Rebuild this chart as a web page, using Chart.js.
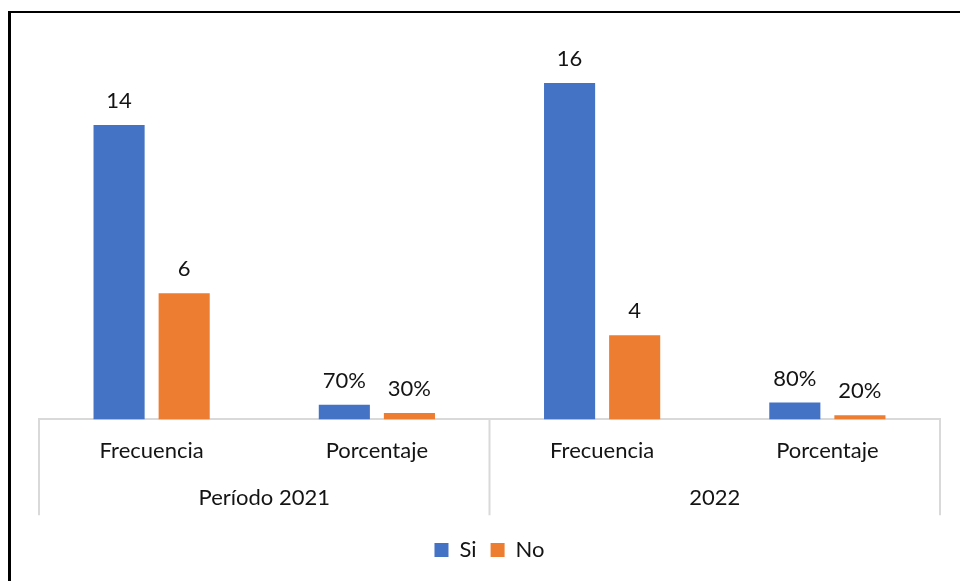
<!DOCTYPE html>
<html>
<head>
<meta charset="utf-8">
<script src="https://cdn.jsdelivr.net/npm/chart.js@4.4.0/dist/chart.umd.min.js"></script>
<style>
  html, body { margin: 0; padding: 0; background: #fff; }
  #wrap { position: relative; width: 960px; height: 581px; }
  #frame {
    position: absolute; left: 8px; top: 11px; right: 0; bottom: 0;
    border-left: 3px solid #000; border-top: 2px solid #000;
    pointer-events: none;
  }
</style>
</head>
<body>
<div id="wrap">
  <canvas id="barChart" width="960" height="581"></canvas>
  <div id="frame"></div>
</div>
<script>
const categories = ['Frecuencia', 'Porcentaje', 'Frecuencia', 'Porcentaje'];
const periods = ['Período 2021', '2022'];
const siValues = [14, 0.7, 16, 0.8];
const noValues = [6, 0.3, 4, 0.2];
// which categories hold shares (shown as %)
const isPercent = [false, true, false, true];

const FONT = 'Lato, "Open Sans", sans-serif';
const FONT_SIZE = 22;
const TEXT = '#141414';
const AXIS_GRAY = '#d9d9d9';

function fmt(v, i) {
    return isPercent[i] ? Math.round(v * 100) + '%' : String(v);
}

// value labels above each bar
const barLabels = {
    id: 'barLabels',
    afterDatasetsDraw(chart) {
        const ctx = chart.ctx;
        ctx.save();
        ctx.font = FONT_SIZE + 'px ' + FONT;
        ctx.fillStyle = TEXT;
        ctx.textAlign = 'center';
        ctx.textBaseline = 'alphabetic';
        chart.data.datasets.forEach((ds, di) => {
            chart.getDatasetMeta(di).data.forEach((bar, i) => {
                ctx.fillText(fmt(ds.data[i], i), bar.x, bar.y - 17);
            });
        });
        ctx.restore();
    }
};

// separators of the two-level category axis
const groupLines = {
    id: 'groupLines',
    afterDraw(chart) {
        const x = chart.scales.x;
        const x2 = chart.scales.x2;
        const area = chart.chartArea;
        const mid = (x.getPixelForValue(1) + x.getPixelForValue(2)) / 2;
        const ctx = chart.ctx;
        ctx.save();
        ctx.strokeStyle = AXIS_GRAY;
        ctx.lineWidth = 2;
        ctx.beginPath();
        [area.left, mid, area.right].forEach(px => {
            ctx.moveTo(px, area.bottom);
            ctx.lineTo(px, x2.bottom + 1);
        });
        ctx.stroke();
        ctx.restore();
    }
};

const ctx = document.getElementById('barChart').getContext('2d');
new Chart(ctx, {
    type: 'bar',
    data: {
        labels: categories,
        datasets: [
            { label: 'Si', data: siValues, backgroundColor: '#4472C4', xAxisID: 'x' },
            { label: 'No', data: noValues, backgroundColor: '#ED7D31', xAxisID: 'x' }
        ]
    },
    options: {
        responsive: false,
        animation: false,
        categoryPercentage: 0.578,
        barPercentage: 0.785,
        layout: { padding: { left: 39, right: 20, top: 41, bottom: 10 } },
        scales: {
            y: { display: false, min: 0, max: 18 },
            x: {
                weight: 0,
                grid: { display: false, drawTicks: false },
                border: { display: true, color: AXIS_GRAY, width: 2 },
                ticks: { padding: 18, color: TEXT, font: { family: FONT, size: FONT_SIZE } }
            },
            x2: {
                type: 'category',
                labels: periods,
                position: 'bottom',
                weight: 1,
                grid: { display: false, drawTicks: false },
                border: { display: false },
                ticks: { padding: 3, color: TEXT, font: { family: FONT, size: FONT_SIZE } }
            }
        },
        plugins: {
            tooltip: { enabled: false },
            legend: {
                position: 'bottom',
                title: { display: true, text: ' ', padding: 0, font: { size: 9 } },
                labels: {
                    boxWidth: 14, boxHeight: 14, padding: 14,
                    color: TEXT, font: { family: FONT, size: FONT_SIZE }
                }
            }
        }
    },
    plugins: [barLabels, groupLines]
});
</script>
</body>
</html>
